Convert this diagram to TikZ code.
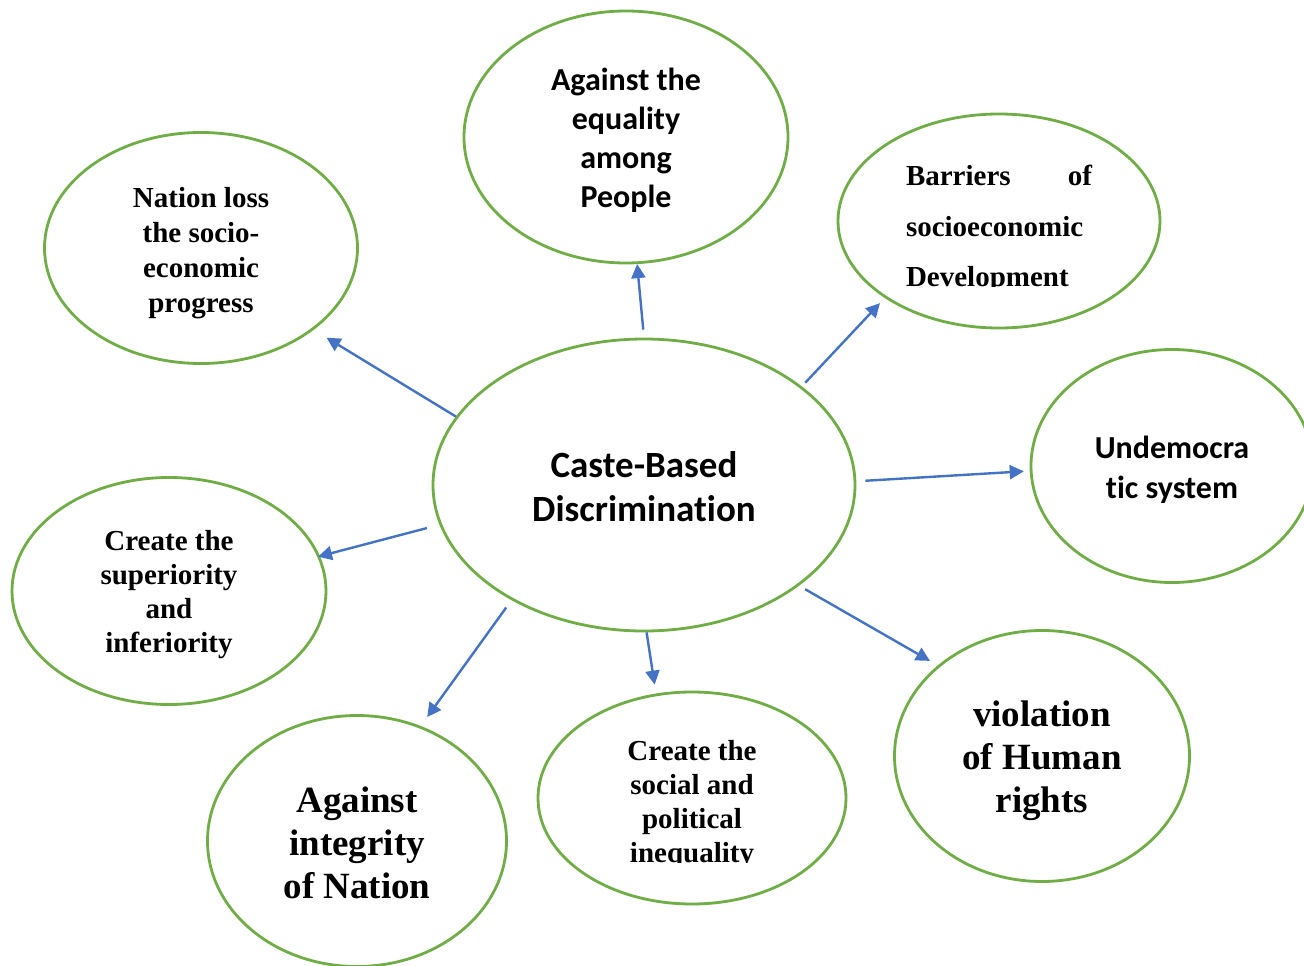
\documentclass[tikz,border=0pt]{standalone}
\usepackage{fontspec}
\usetikzlibrary{shapes.geometric,arrows.meta}
\newfontfamily\calfont{Carlito}[Ligatures={NoCommon}]
\newfontfamily\tnrfont{Liberation Serif}
\definecolor{ovgreen}{HTML}{70AD47}
\definecolor{ovblue}{HTML}{4472C4}
\tikzset{
  bubble/.style={ellipse, draw=ovgreen, line width=2.8pt, fill=white, inner sep=0pt},
  txt/.style={align=center, inner sep=0pt},
  arr/.style={draw=ovblue, line width=2.4pt, -{Triangle[length=14pt,width=14pt]}},
}
\begin{document}
\begin{tikzpicture}[x=1pt,y=-1pt]
\useasboundingbox[fill=white] (0,0) rectangle (1304,966);

\node[bubble, minimum width=324pt, minimum height=252pt] (t) at (626,137) {};
\node[txt, font=\calfont\bfseries\fontsize{32}{39}\selectfont] (tt) at (626,140) {Against the\\equality\\among\\People};

\node[bubble, minimum width=322pt, minimum height=214pt] (b) at (999,221) {};
\node[txt, text width=186pt, align=left, font=\tnrfont\bfseries\fontsize{29}{50.5}\selectfont] (bt) at (999,229) {Barriers\hfill of\\socioeconomic\\Development};

\node[bubble, minimum width=313pt, minimum height=231pt] (n) at (201,248) {};
\node[txt, font=\tnrfont\bfseries\fontsize{29}{35}\selectfont] (nt) at (201,253) {Nation loss\\the socio-\\economic\\progress};

\node[bubble, minimum width=422pt, minimum height=292pt] (c) at (644,485) {};
\node[txt, font=\calfont\bfseries\fontsize{37}{44}\selectfont] (ct) at (644,487) {Caste-Based\\Discrimination};

\node[bubble, minimum width=282pt, minimum height=233pt] (u) at (1172,466) {};
\node[txt, font=\calfont\bfseries\fontsize{32}{40}\selectfont] (ut) at (1172,470) {Undemocra\\tic system};

\node[bubble, minimum width=314pt, minimum height=227pt] (s) at (169,591) {};
\node[txt, font=\tnrfont\bfseries\fontsize{29}{34}\selectfont] (st) at (169,595) {Create the\\superiority\\and\\inferiority};

\node[bubble, minimum width=295pt, minimum height=251pt] (v) at (1042,756) {};
\node[txt, font=\tnrfont\bfseries\fontsize{37}{43}\selectfont] (vt) at (1042,761) {violation\\of Human\\rights};

\node[bubble, minimum width=308pt, minimum height=212pt] (p) at (692,798) {};
\node[txt, font=\tnrfont\bfseries\fontsize{29}{34}\selectfont] (pt) at (692,805) {Create the\\social and\\political\\inequality};

\node[bubble, minimum width=299pt, minimum height=251pt] (i) at (357,841) {};
\node[txt, font=\tnrfont\bfseries\fontsize{37}{43}\selectfont] (it) at (357,843) {Against\\integrity\\of Nation};

% clipped text bottoms, as in the source
\fill[white] (900,287) rectangle (1085,302);
\fill[white] (620,863) rectangle (765,878);

\draw[arr, shorten <=8pt] (c.90) -- (t.-85);
\draw[arr, shorten <=5pt, shorten >=7pt] (c.32) -- (b.-146);
\draw[arr, shorten >=15pt] (c.160) -- (n.-36);
\draw[arr, shorten <=9pt, shorten >=6pt] (c.1) -- (u.-178);
\draw[arr, shorten <=13pt, shorten >=-2pt] (c.-169) -- (s.13);
\draw[arr, shorten <=7pt, shorten >=9pt] (c.-33) -- (v.139);
\draw[arr, shorten >=9pt] (c.-89) -- (p.109);
\draw[arr, shorten <=9pt, shorten >=11pt] (c.-139) -- (i.61);
\end{tikzpicture}
\end{document}
